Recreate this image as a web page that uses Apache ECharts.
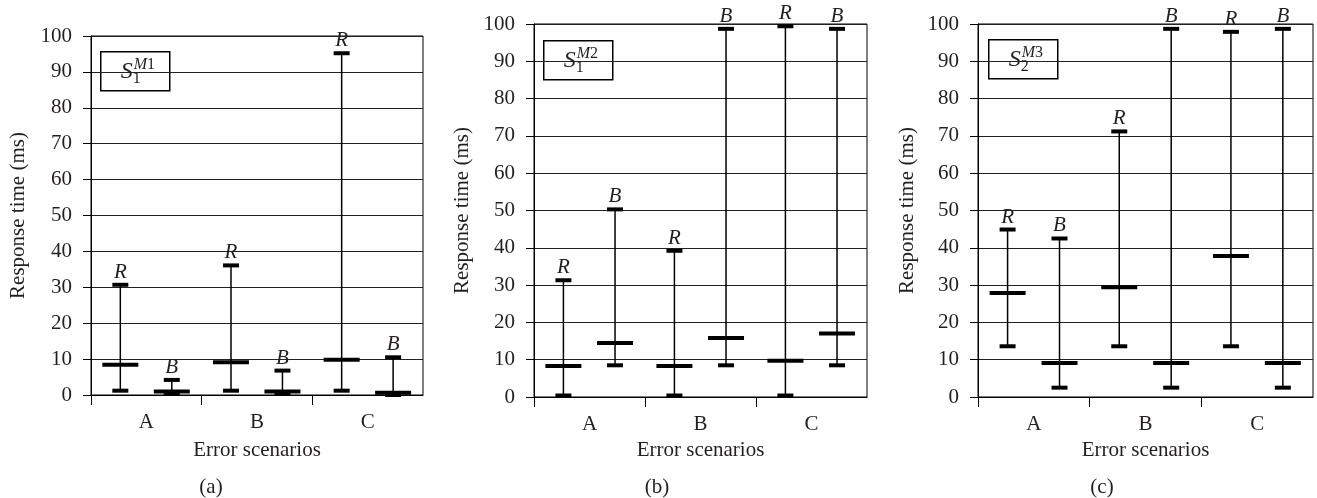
<!DOCTYPE html>
<html>
<head>
<meta charset="utf-8">
<script src="https://cdn.jsdelivr.net/npm/echarts@6/dist/echarts.min.js"></script>
<style>
html,body{margin:0;padding:0;background:#fff;}
#chart{width:1317px;height:498px;}
</style>
</head>
<body>
<div id="chart"></div>
<script>
// ---- data ----
const categories = ['A', 'B', 'C'];
const seriesNames = ['R', 'B'];
const yMin = 0, yMax = 100, yStep = 10;
const panelLabels = ['(a)', '(b)', '(c)'];
const legendSub = ['1', '1', '2'];
const legendSup = ['M1', 'M2', 'M3'];

// panel (a)  S1^M1
const aRMin  = [1.2, 1.2, 1.2];
const aRMean = [8.4, 9.1, 9.8];
const aRMax  = [30.7, 36.1, 95.2];
const aBMin  = [0.3, 0.3, 0.0];
const aBMean = [1.0, 1.0, 0.6];
const aBMax  = [4.2, 6.8, 10.5];

// panel (b)  S1^M2
const bRMin  = [0.4, 0.4, 0.4];
const bRMean = [8.3, 8.3, 9.7];
const bRMax  = [31.3, 39.2, 99.4];
const bBMin  = [8.5, 8.5, 8.5];
const bBMean = [14.5, 15.8, 17.0];
const bBMax  = [50.3, 98.7, 98.7];

// panel (c)  S2^M3
const cRMin  = [13.6, 13.6, 13.6];
const cRMean = [27.9, 29.4, 37.8];
const cRMax  = [44.9, 71.2, 97.9];
const cBMin  = [2.5, 2.5, 2.5];
const cBMean = [9.1, 9.1, 9.1];
const cBMax  = [42.5, 98.7, 98.7];

// ---- layout / style ----
const FONT = '"Liberation Serif", "Times New Roman", serif';
const FS = 21;
const TXT = '#231f20';
const panels = [
  { grid: {left: 91, top: 36, width: 332, height: 359}, xName: 45, yName: 62, cap: 211,
    legend: [100, 51], R: [aRMin, aRMean, aRMax], B: [aBMin, aBMean, aBMax] },
  { grid: {left: 534, top: 24, width: 333, height: 373}, xName: 43, yName: 61, cap: 657,
    legend: [543, 40], R: [bRMin, bRMean, bRMax], B: [bBMin, bBMean, bBMax] },
  { grid: {left: 978, top: 24, width: 335, height: 373}, xName: 43, yName: 60, cap: 1102,
    legend: [988, 39], R: [cRMin, cRMean, cRMax], B: [cBMin, cBMean, cBMax] }
];
const offsets = { R: -0.235, B: 0.23 };

const grids = [], xAxes = [], yAxes = [], series = [], graphics = [];

panels.forEach((p, i) => {
  grids.push(Object.assign({ show: true, borderColor: '#000', borderWidth: 1, backgroundColor: 'transparent' }, p.grid));
  xAxes.push({
    type: 'category', gridIndex: i, data: categories, boundaryGap: true,
    axisLine: { show: true, lineStyle: { color: '#000', width: 1 } },
    axisTick: { show: false },
    axisLabel: { fontFamily: FONT, fontSize: FS, color: TXT, margin: 17 },
    name: 'Error scenarios', nameLocation: 'middle', nameGap: p.xName,
    nameTextStyle: { fontFamily: FONT, fontSize: FS, color: TXT }
  });
  xAxes.push({
    type: 'value', gridIndex: i, min: 0, max: categories.length, interval: 1, position: 'bottom',
    axisLine: { show: false }, axisLabel: { show: false }, splitLine: { show: false },
    axisTick: { show: true, length: 10, customValues: [0, 1, 2], lineStyle: { color: '#000', width: 1 } }
  });
  yAxes.push({
    type: 'value', gridIndex: i, min: yMin, max: yMax, interval: yStep,
    axisLine: { show: true, lineStyle: { color: '#000', width: 1 } },
    axisTick: { show: true, length: 8, inside: false, lineStyle: { color: '#000', width: 1 } },
    axisLabel: { fontFamily: FONT, fontSize: FS, color: TXT, margin: 19 },
    splitLine: { show: true, lineStyle: { color: '#222', width: 1 } },
    name: 'Response time (ms)', nameLocation: 'middle', nameGap: p.yName, nameRotate: 90,
    nameTextStyle: { fontFamily: FONT, fontSize: FS, color: TXT }
  });
  seriesNames.forEach((sn) => {
    const arr = p[sn];
    const data = categories.map((c, k) => [k, arr[0][k], arr[1][k], arr[2][k]]);
    const off = offsets[sn];
    series.push({
      type: 'custom', name: sn, xAxisIndex: i * 2, yAxisIndex: i, clip: false,
      encode: { x: 0, y: [1, 2, 3] },
      data: data,
      renderItem: function (params, api) {
        const c = api.value(0);
        const band = api.size([1, 0])[0];
        const x = api.coord([c, 0])[0] + off * band;
        const y0 = api.coord([c, api.value(1)])[1];
        const ym = api.coord([c, api.value(2)])[1];
        const y1 = api.coord([c, api.value(3)])[1];
        return {
          type: 'group',
          children: [
            { type: 'line', shape: { x1: x, y1: y0, x2: x, y2: y1 }, style: { stroke: '#000', lineWidth: 1.5 } },
            { type: 'rect', shape: { x: x - 8, y: y1 - 2, width: 16, height: 4 }, style: { fill: '#000' } },
            { type: 'rect', shape: { x: x - 8, y: y0 - 2, width: 16, height: 4 }, style: { fill: '#000' } },
            { type: 'rect', shape: { x: x - 18, y: ym - 2, width: 36, height: 4 }, style: { fill: '#000' } },
            { type: 'text', style: { text: sn, x: x, y: y1 - 2, align: 'center', verticalAlign: 'bottom',
                fontFamily: FONT, fontStyle: 'italic', fontSize: FS, fill: TXT } }
          ]
        };
      }
    });
  });
  // legend box
  const lx = p.legend[0], ly = p.legend[1];
  graphics.push({
    type: 'group', left: lx, top: ly, z: 100,
    children: [
      { type: 'rect', shape: { x: 0, y: 0, width: 69, height: 39 }, style: { fill: '#fff', stroke: '#000', lineWidth: 1.5 } },
      { type: 'text', x: 20, y: 20, style: { text: 'S', fontFamily: FONT, fontStyle: 'italic', fontSize: 24, fill: TXT, verticalAlign: 'middle', align: 'left' } },
      { type: 'text', x: 33, y: 13, style: { text: '{i|M}{n|' + legendSup[i].slice(1) + '}', verticalAlign: 'middle', align: 'left',
          rich: { i: { fontFamily: FONT, fontStyle: 'italic', fontSize: 16, fill: TXT }, n: { fontFamily: FONT, fontSize: 16, fill: TXT } } } },
      { type: 'text', x: 32, y: 27, style: { text: legendSub[i], fontFamily: FONT, fontSize: 16, fill: TXT, verticalAlign: 'middle', align: 'left' } }
    ]
  });
  graphics.push({
    type: 'text', x: p.cap, y: 487, z: 100,
    style: { text: panelLabels[i], fontFamily: FONT, fontSize: FS, fill: TXT, align: 'center', verticalAlign: 'middle' }
  });
});

const chart = echarts.init(document.getElementById('chart'), null, { renderer: 'canvas' });
chart.setOption({
  animation: false,
  backgroundColor: '#fff',
  grid: grids,
  xAxis: xAxes,
  yAxis: yAxes,
  series: series,
  graphic: graphics
});
</script>
</body>
</html>
